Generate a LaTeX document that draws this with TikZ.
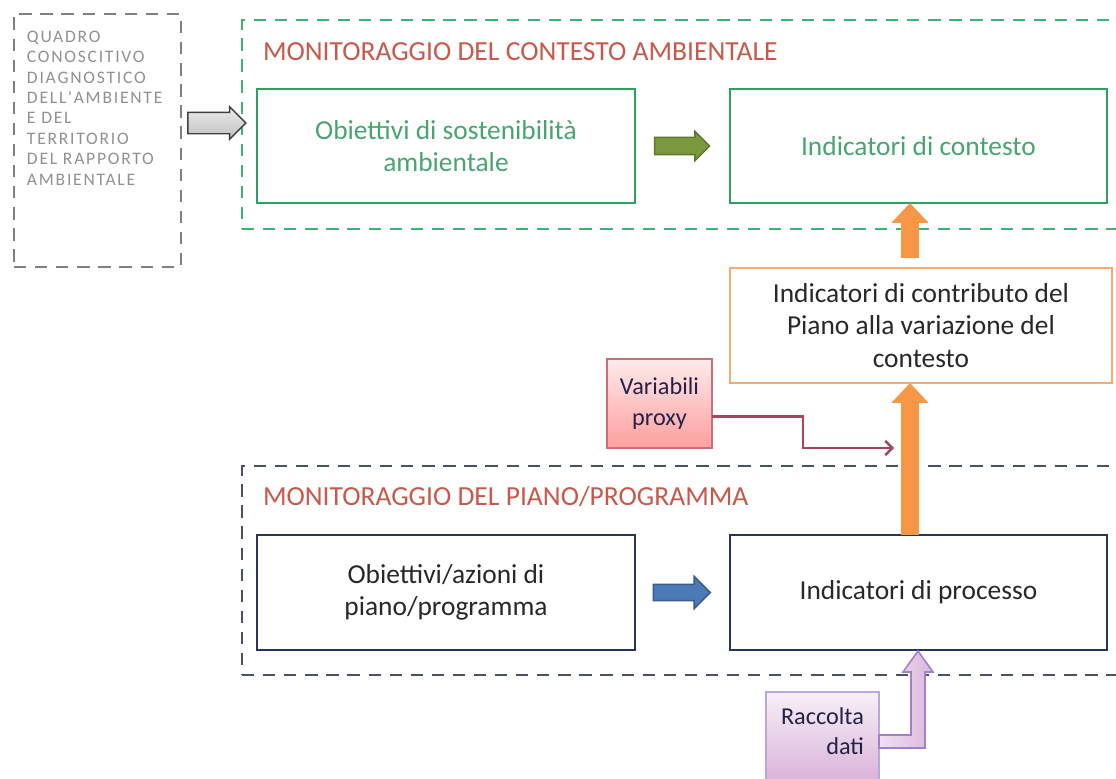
\documentclass[tikz,border=0pt]{standalone}
\usepackage{fontspec}
\setmainfont{Carlito}
\newfontfamily\quadrofont[LetterSpace=10]{Carlito}
\usetikzlibrary{arrows.meta,shapes.arrows,calc,positioning}

\definecolor{titlered}{RGB}{200,88,74}
\definecolor{greenframe}{RGB}{62,178,118}
\definecolor{greenbox}{RGB}{46,160,98}
\definecolor{greentext}{RGB}{72,165,112}
\definecolor{olivefill}{RGB}{122,152,62}
\definecolor{olivedraw}{RGB}{92,120,46}
\definecolor{orangebox}{RGB}{245,172,112}
\definecolor{orangearrow}{RGB}{247,150,70}
\definecolor{navybox}{RGB}{38,54,86}
\definecolor{navyframe}{RGB}{72,82,102}
\definecolor{bluefill}{RGB}{76,122,182}
\definecolor{bluedraw}{RGB}{56,92,142}
\definecolor{proxyline}{RGB}{166,70,92}
\definecolor{proxydraw}{RGB}{200,112,122}
\definecolor{purpledraw}{RGB}{160,130,200}
\definecolor{darktext}{RGB}{40,40,40}
\definecolor{greytext}{RGB}{145,145,145}

\begin{document}
\begin{tikzpicture}[x=0.02cm,y=-0.02cm,
        every node/.style={inner sep=0pt,outer sep=0pt},
        frame/.style={draw,line width=1.1pt,dash pattern=on 7pt off 5pt,anchor=north west},
        box/.style={draw,line width=1.3pt,anchor=north west,align=center,
            font=\fontsize{15.6}{18.3}\selectfont},
        heading/.style={anchor=west,text=titlered,font=\fontsize{15.7}{18}\selectfont},
        blockarrow/.style={single arrow,single arrow head indent=0pt,line width=0.8pt,
            minimum width=0pt},
        fatarrow/.style={draw=orangearrow,line width=10.8pt,
            -{Triangle[length=11.3pt,width=20.4pt]}},
        smallbox/.style={draw,line width=0.9pt,anchor=north west,
            font=\fontsize{13.8}{17.5}\selectfont}]
    \useasboundingbox (0,0) rectangle (1116,778);
    \clip (0,0) rectangle (1116,778);

    % quadro conoscitivo
    \node[frame,draw=gray,minimum width=3.34cm,minimum height=5.06cm] (quadro) at (14,14) {};
    \node[anchor=north west,align=left,text=greytext,
        font=\quadrofont\fontsize{10}{11.6}\selectfont] (quadrotxt) at (27,31)
        {QUADRO\\CONOSCITIVO\\DIAGNOSTICO\\DELL'AMBIENTE\\E DEL\\TERRITORIO\\DEL RAPPORTO\\AMBIENTALE};

    % monitoraggio del contesto ambientale
    \node[frame,draw=greenframe,minimum width=17.76cm,minimum height=4.18cm] (envframe) at (242,20) {};
    \node[heading] (envtitle) at (263,52) {MONITORAGGIO DEL CONTESTO AMBIENTALE};
    \node[box,draw=greenbox,text=greentext,minimum width=7.56cm,minimum height=2.28cm]
        (obsost) at (257,89) {Obiettivi di sostenibilità\\ambientale};
    \node[box,draw=greenbox,text=greentext,minimum width=7.54cm,minimum height=2.28cm]
        (indcont) at (730,89) {Indicatori di contesto};

    % contributo del piano
    \node[box,draw=orangebox,text=darktext,minimum width=7.64cm,minimum height=2.3cm]
        (contrib) at (730,268) {Indicatori di contributo del\\Piano alla variazione del\\contesto};
    \node[smallbox,align=center,draw=proxydraw,top color=red!8,bottom color=red!38,
        text=darktext!85!blue,minimum width=2.1cm,minimum height=1.78cm]
        (varproxy) at (607,359) {Variabili\\proxy};

    % monitoraggio del piano/programma
    \node[frame,draw=navyframe,minimum width=17.76cm,minimum height=4.18cm] (planframe) at (242,466) {};
    \node[heading] (plantitle) at (263,497) {MONITORAGGIO DEL PIANO/PROGRAMMA};
    \node[box,draw=navybox,text=darktext,minimum width=7.56cm,minimum height=2.3cm]
        (obaz) at (257,535) {Obiettivi/azioni di\\piano/programma};
    \node[box,draw=navybox,text=darktext,minimum width=7.54cm,minimum height=2.3cm]
        (indproc) at (730,535) {Indicatori di processo};
    \node[smallbox,align=right,draw=purpledraw!70,top color=violet!6,bottom color=violet!30,
        text=darktext!85!blue,text depth=6.8pt,minimum width=2.26cm,minimum height=1.8cm]
        (racc) at (766,692) {Raccolta\\dati};

    % frecce
    \node[blockarrow,draw=black!75,top color=gray!15,bottom color=gray!50,
        inner ysep=0.2cm,minimum height=1.16cm,single arrow head extend=0.11cm]
        (qarrow) at ($(quadro.east |- 0,123)!0.5!(envframe.west |- 0,123)$) {};
    \node[blockarrow,draw=olivedraw,fill=olivefill,
        inner ysep=0.16cm,minimum height=1.1cm,single arrow head extend=0.12cm]
        (garrow) at ($(obsost.east)!0.45!(indcont.west)$) {};
    \node[blockarrow,draw=bluedraw,fill=bluefill,
        inner ysep=0.15cm,minimum height=1.14cm,single arrow head extend=0.16cm]
        (barrow) at ($(obaz.east)!0.45!(indproc.west)$) {};

    \coordinate (ax) at (910,0);
    \draw[fatarrow,shorten <=5.7pt] (ax |- contrib.north) -- (ax |- indcont.south);
    \draw[fatarrow] (ax |- indproc.north) -- (ax |- contrib.south);

    \coordinate (proxyend) at (894,448);
    \draw[proxyline,line width=1.4pt,-{Straight Barb[length=4pt,width=8pt]}]
        ([yshift=-7.5]varproxy.east) -| (803,448) -- (proxyend);

    \coordinate (rtip) at (918,651);
    \filldraw[draw=purpledraw,line width=0.9pt,left color=violet!12,right color=violet!28]
        (racc.east |- 0,735) -- (911,735) -- (911,672) -- (903,672) -- (rtip)
        -- (933,672) -- (925,672) -- (925,748) -- (racc.east |- 0,748) -- cycle;
\end{tikzpicture}
\end{document}
